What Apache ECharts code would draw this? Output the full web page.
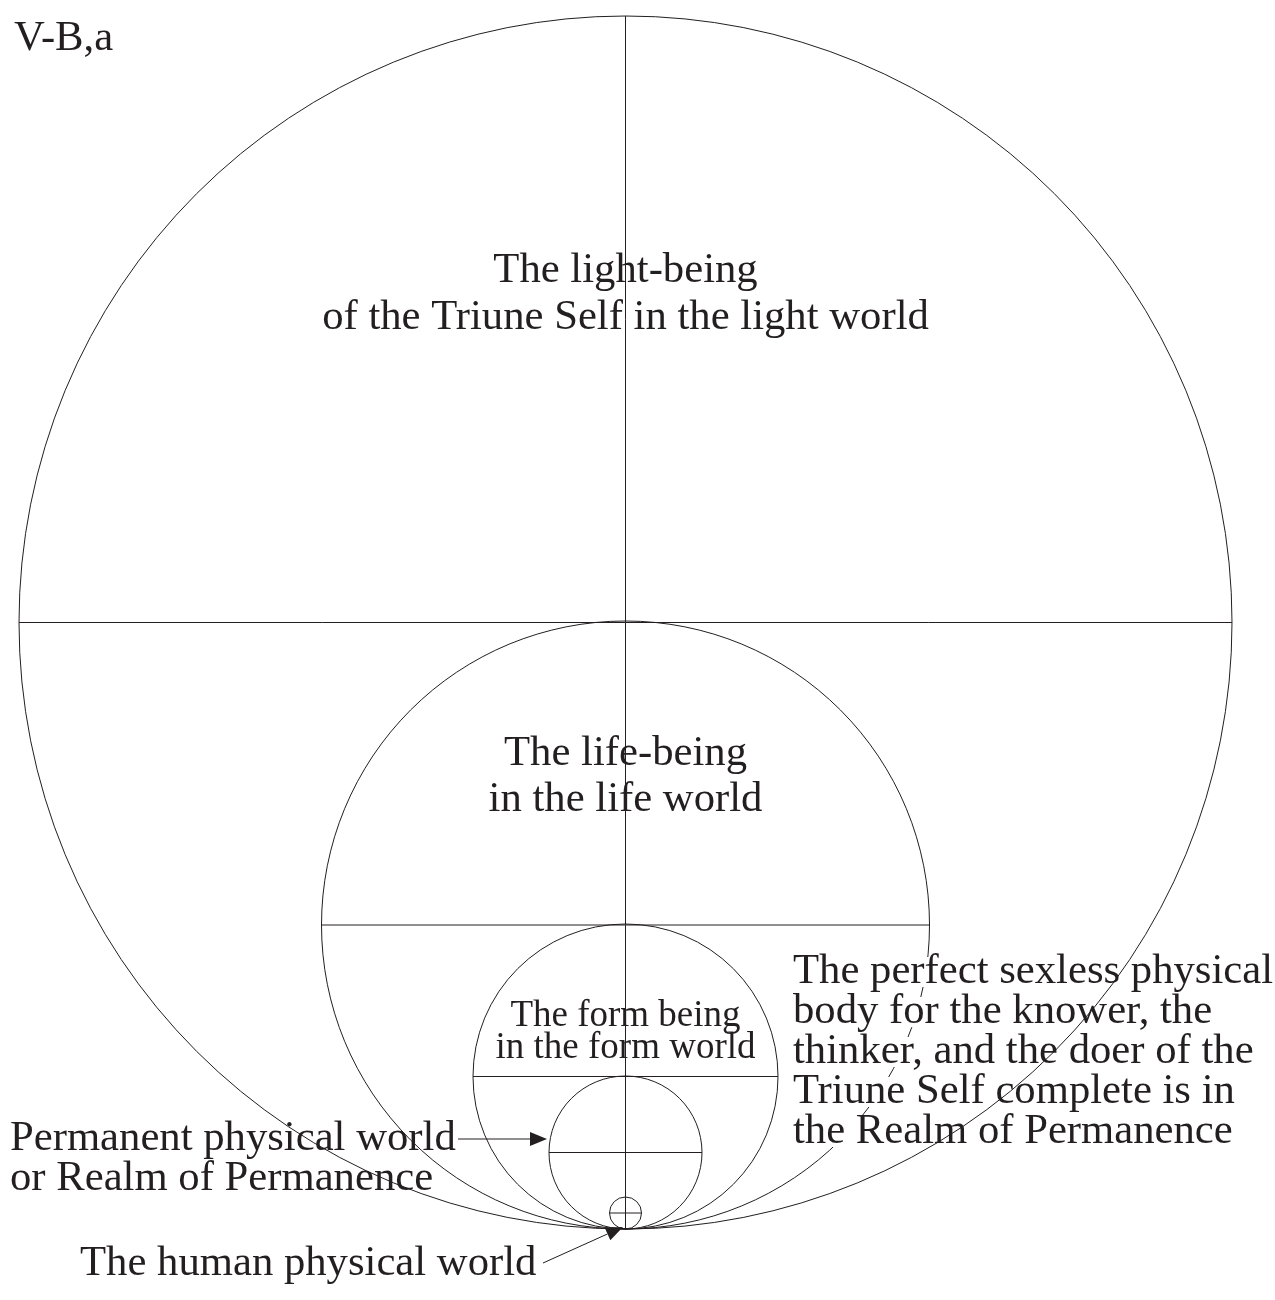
<!DOCTYPE html>
<html>
<head>
<meta charset="utf-8">
<title>V-B,a</title>
<script src="https://cdn.jsdelivr.net/npm/echarts@6/dist/echarts.min.js"></script>
<style>
  html, body { margin: 0; padding: 0; background: #fff; }
  #chart { width: 1275px; height: 1300px; }
</style>
</head>
<body>
<div id="chart"></div>
<script>
// all circles touch at the bottom point (0,0): [centerX, centerY, radius]
const circles = [
  [0, 606.5, 606.5],  // light world
  [0, 304, 304],      // life world
  [0, 152.5, 152.5],  // form world
  [0, 76.5, 76.5],    // realm of permanence
  [0, 16, 16]         // human physical world
];
// the vertical line through all circles
const axisLine = [[0, 0], [0, 1213]];
// arrows [fromX, fromY, toX, toY]
const arrows = [
  [-167.5, 90, -78.5, 90],
  [-82.5, -34, -2.5, 2]
];
// texts
const codeText = ['V-B,a'];
const lightText = ['The light-being', 'of the Triune Self in the light world'];
const lifeText = ['The life-being', 'in the life world'];
const formText = ['The form being', 'in the form world'];
const perfectText = [
  'The perfect sexless physical',
  'body for the knower, the',
  'thinker, and the doer of the',
  'Triune Self complete is in',
  'the Realm of Permanence'
];
const permanentText = ['Permanent physical world', 'or Realm of Permanence'];
const humanText = ['The human physical world'];

const ink = '#231f20';
const font = '"Liberation Serif", "Times New Roman", serif';

// where each text block sits (first line middle, in chart units)
const blocks = [
  { lines: codeText, x: -611.5, y: 1190, align: 'left', size: 42.7, lh: 0 },
  { lines: lightText, x: 0, y: 958.7, align: 'center', size: 42.7, lh: 47.4 },
  { lines: lifeText, x: 0, y: 475, align: 'center', size: 42.7, lh: 46 },
  { lines: formText, x: 0, y: 213, align: 'center', size: 37, lh: 32.7 },
  { lines: perfectText, x: 167.5, y: 257, align: 'left', size: 42.7, lh: 40, boxed: true },
  { lines: permanentText, x: -615.5, y: 90, align: 'left', size: 42.7, lh: 40 },
  { lines: humanText, x: -545.5, y: -35, align: 'left', size: 42.7, lh: 0 }
];
const textItems = [];
blocks.forEach(b => {
  b.lines.forEach((t, i) => {
    textItems.push({ text: t, x: b.x, y: b.y - i * b.lh, align: b.align, size: b.size, boxed: !!b.boxed });
  });
});

const chart = echarts.init(document.getElementById('chart'));
chart.setOption({
  animation: false,
  backgroundColor: '#fff',
  grid: { left: 0, right: 0, top: 0, bottom: 0 },
  xAxis: { type: 'value', min: -625.5, max: 649.5, show: false },
  yAxis: { type: 'value', min: -71, max: 1229, show: false },
  series: [
    {
      // circles with their horizontal diameters
      type: 'custom',
      clip: false,
      silent: true,
      data: circles,
      renderItem: function (params, api) {
        const c = api.coord([api.value(0), api.value(1)]);
        const r = api.size([api.value(2), 0])[0];
        // the life world circle runs behind the right hand text
        const behind = params.dataIndex === 1;
        return {
          type: 'group',
          children: [
            { type: 'circle', z2: behind ? 1 : 10, shape: { cx: c[0], cy: c[1], r: r },
              style: { fill: 'none', stroke: ink, lineWidth: 1 } },
            { type: 'line', z2: 10, shape: { x1: c[0] - r, y1: c[1], x2: c[0] + r, y2: c[1] },
              style: { stroke: ink, lineWidth: 1 } }
          ]
        };
      }
    },
    {
      type: 'line',
      silent: true,
      symbol: 'none',
      data: axisLine,
      lineStyle: { color: ink, width: 1 },
      z: 3
    },
    {
      type: 'custom',
      clip: false,
      silent: true,
      data: arrows,
      renderItem: function (params, api) {
        const a = api.coord([api.value(0), api.value(1)]);
        const b = api.coord([api.value(2), api.value(3)]);
        const dx = b[0] - a[0], dy = b[1] - a[1];
        const len = Math.sqrt(dx * dx + dy * dy);
        const ux = dx / len, uy = dy / len;
        const hl = 17, hw = 7;
        const bx = b[0] - ux * hl, by = b[1] - uy * hl;
        return {
          type: 'group',
          children: [
            { type: 'line', z2: 10, shape: { x1: a[0], y1: a[1], x2: bx, y2: by },
              style: { stroke: ink, lineWidth: 1 } },
            { type: 'polygon', z2: 10,
              shape: { points: [[b[0], b[1]], [bx - uy * hw, by + ux * hw], [bx + uy * hw, by - ux * hw]] },
              style: { fill: ink } }
          ]
        };
      }
    },
    {
      type: 'custom',
      clip: false,
      silent: true,
      data: textItems.map(t => [t.x, t.y]),
      renderItem: function (params, api) {
        const it = textItems[params.dataIndex];
        const p = api.coord([api.value(0), api.value(1)]);
        return {
          type: 'text',
          x: p[0],
          y: p[1],
          z2: 5,
          style: {
            text: it.text,
            font: it.size + 'px ' + font,
            fill: ink,
            align: it.align,
            verticalAlign: 'middle',
            lineHeight: it.boxed ? 30 : it.size,
            backgroundColor: it.boxed ? '#fff' : null
          }
        };
      }
    }
  ]
});
window.addEventListener('resize', function () { chart.resize(); });
</script>
</body>
</html>
